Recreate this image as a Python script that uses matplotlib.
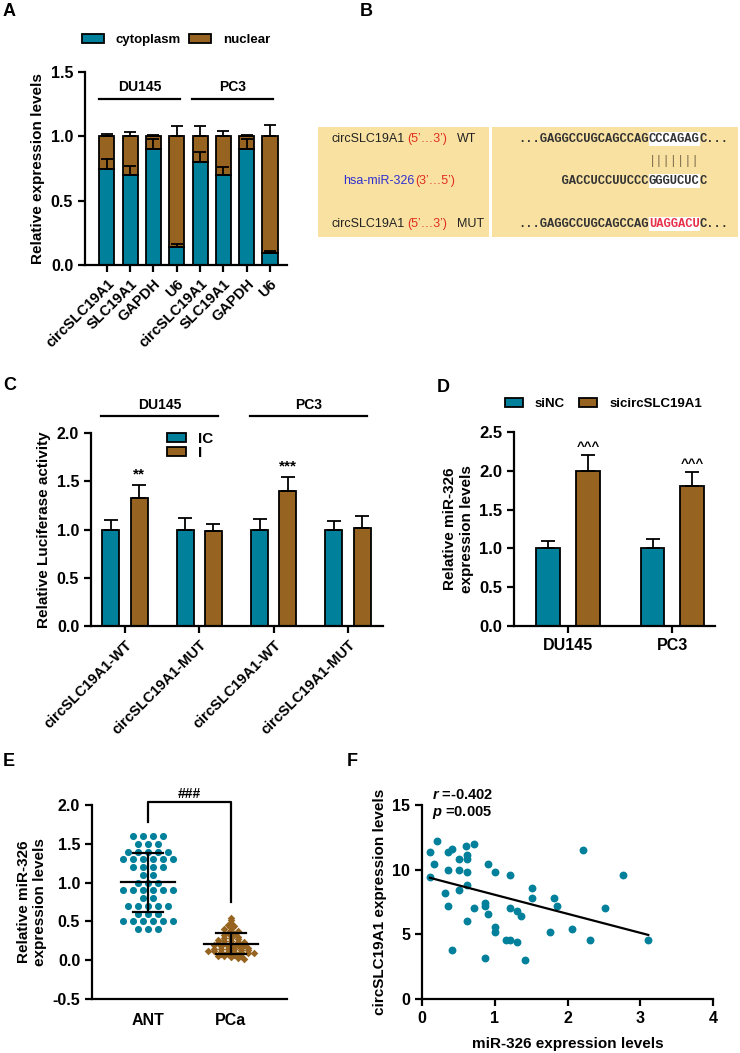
import numpy as np
import matplotlib.pyplot as plt
from matplotlib.patches import Rectangle
from matplotlib.ticker import FormatStrFormatter

plt.rcParams['font.family'] = ['Liberation Sans', 'DejaVu Sans']
plt.rcParams['font.weight'] = 'bold'
plt.rcParams['axes.labelweight'] = 'bold'
plt.rcParams['axes.linewidth'] = 1.6
plt.rcParams['xtick.major.width'] = 1.6
plt.rcParams['ytick.major.width'] = 1.6
plt.rcParams['xtick.major.size'] = 5
plt.rcParams['ytick.major.size'] = 5
plt.rcParams['xtick.labelsize'] = 11.5
plt.rcParams['ytick.labelsize'] = 11.5
plt.rcParams['axes.labelsize'] = 11
plt.rcParams['mathtext.fontset'] = 'custom'
plt.rcParams['mathtext.it'] = 'Liberation Sans:italic:bold'
plt.rcParams['mathtext.rm'] = 'Liberation Sans:bold'

TEAL = '#00809A'
BROWN = '#966420'
PALE = '#F9E1A2'

# ---- data ----
# A: subcellular fractionation
a_genes = ['circSLC19A1', 'SLC19A1', 'GAPDH', 'U6',
           'circSLC19A1', 'SLC19A1', 'GAPDH', 'U6']
a_cells = ['DU145', 'PC3']
a_cyto = [0.75, 0.70, 0.90, 0.14, 0.80, 0.70, 0.90, 0.09]
a_cyto_err = [0.07, 0.07, 0.08, 0.02, 0.08, 0.06, 0.08, 0.02]
a_nuc_err = [0.02, 0.03, 0.01, 0.08, 0.08, 0.04, 0.01, 0.09]

# B: binding site
b_wt = ['...GAGGCCUGCAGCCAG', 'CCCAGAG', 'C...']
b_mir = ['      GACCUCCUUCCC', 'GGGUCUC', 'C']
b_mut = ['...GAGGCCUGCAGCCAG', 'UAGGACU', 'C...']

# C: luciferase
c_constructs = ['circSLC19A1-WT', 'circSLC19A1-MUT',
                'circSLC19A1-WT', 'circSLC19A1-MUT']
c_cells = ['DU145', 'PC3']
c_ic = [1.0, 1.0, 1.0, 1.0]
c_ic_err = [0.10, 0.12, 0.11, 0.09]
c_i = [1.33, 0.98, 1.40, 1.02]
c_i_err = [0.13, 0.08, 0.14, 0.12]
c_marks = ['**', '', '***', '']

# D: miR-326 after knockdown
d_cells = ['DU145', 'PC3']
d_sinc = [1.0, 1.0]
d_sinc_err = [0.10, 0.12]
d_si = [2.0, 1.8]
d_si_err = [0.20, 0.18]
d_marks = ['^^^', '^^^']

# E: tissue miR-326
e_groups = ['ANT', 'PCa']
e_ant = [1.6, 1.6, 1.6, 1.6, 1.5, 1.5, 1.5, 1.4, 1.4, 1.4, 1.4, 1.4,
         1.3, 1.3, 1.3, 1.3, 1.3, 1.3, 1.2, 1.2, 1.2, 1.2, 1.1, 1.1,
         1.0, 1.0, 1.0, 0.9, 0.9, 0.9, 0.9, 0.9, 0.9, 0.8, 0.8,
         0.7, 0.7, 0.7, 0.7, 0.7, 0.6, 0.6, 0.6,
         0.5, 0.5, 0.5, 0.5, 0.5, 0.5, 0.4, 0.4, 0.4]
e_pca = [0.55, 0.52, 0.48, 0.46, 0.44, 0.42, 0.40, 0.38, 0.37, 0.35,
         0.34, 0.33, 0.32, 0.30, 0.29, 0.28, 0.27, 0.26, 0.25, 0.25,
         0.24, 0.23, 0.22, 0.22, 0.21, 0.20, 0.20, 0.19, 0.18, 0.18,
         0.17, 0.16, 0.16, 0.15, 0.15, 0.14, 0.14, 0.13, 0.13, 0.12,
         0.12, 0.11, 0.11, 0.10, 0.10, 0.09, 0.09, 0.08, 0.08, 0.07,
         0.06, 0.05, 0.05, 0.04, 0.03, 0.02]

# F: correlation
f_mir = [0.11, 0.16, 0.11, 0.21, 0.36, 0.41, 0.36, 0.31, 0.36, 0.41,
         0.51, 0.51, 0.51, 0.61, 0.62, 0.62, 0.62, 0.62, 0.62, 0.71,
         0.71, 0.91, 0.86, 0.86, 0.91, 0.86, 1.01, 1.01, 1.01, 1.21,
         1.21, 1.15, 1.21, 1.31, 1.31, 1.36, 1.41, 1.51, 1.51, 1.76,
         1.81, 1.86, 2.06, 2.21, 2.31, 2.51, 2.76, 3.11]
f_circ = [11.4, 10.4, 9.4, 12.2, 11.4, 11.6, 10.0, 8.2, 7.2, 3.8,
          10.8, 10.0, 8.4, 11.8, 11.1, 10.8, 9.8, 8.8, 6.0, 12.0,
          7.0, 10.4, 7.4, 7.2, 6.6, 3.2, 9.8, 5.6, 5.2, 9.6,
          7.0, 4.6, 4.6, 6.8, 4.4, 6.4, 3.0, 8.6, 7.8, 5.2,
          7.8, 7.2, 5.4, 11.5, 4.6, 7.0, 9.6, 4.6]

W, H = 740, 1053
fig = plt.figure(figsize=(W / 100, H / 100), dpi=100)


def px_axes(l, t, r, b):
    ax = fig.add_axes([l / W, 1 - b / H, (r - l) / W, (b - t) / H])
    ax.spines[['top', 'right']].set_visible(False)
    return ax


def letter(x, y, s):
    fig.text(x / W, 1 - y / H, s, fontsize=13, fontweight='bold', va='center')


def up_err(ax, x, y, e, cap=4):
    ax.errorbar(x, y, yerr=[np.zeros(len(e)), e], fmt='none', ecolor='black',
                elinewidth=1.3, capsize=cap, capthick=1.3, zorder=4)


def swarm_x(values, center, step, bin_w):
    values = np.asarray(values)
    bins = np.round(values / bin_w).astype(int)
    xs = np.empty(len(values))
    for b in np.unique(bins):
        idx = np.where(bins == b)[0]
        n = len(idx)
        xs[idx] = center + (np.arange(n) - (n - 1) / 2) * step
    return xs


bar_kw = dict(edgecolor='black', linewidth=1.3, zorder=2)

# ---- A ----
ax = px_axes(85, 72, 287, 265)
xa = np.arange(len(a_genes))
cyto = np.array(a_cyto)
ax.bar(xa, cyto, 0.65, color=TEAL, label='cytoplasm', **bar_kw)
ax.bar(xa, 1 - cyto, 0.65, bottom=cyto, color=BROWN, label='nuclear', **bar_kw)
up_err(ax, xa, cyto, a_cyto_err)
up_err(ax, xa, np.ones(len(xa)), a_nuc_err)
ax.set_xlim(-0.94, 7.73)
ax.set_ylim(0, 1.5)
ax.set_yticks([0, 0.5, 1.0, 1.5])
ax.yaxis.set_major_formatter(FormatStrFormatter('%.1f'))
ax.set_xticks(xa)
ax.set_xticklabels(a_genes, rotation=45, ha='right', va='top',
                   rotation_mode='anchor', fontsize=10.5)
ax.set_ylabel('Relative expression levels', labelpad=4)
for i, name in enumerate(a_cells):
    ax.plot([i * 4 - 0.35, i * 4 + 3.15], [1.29, 1.29], color='black', lw=1.6,
            clip_on=False)
    ax.text(i * 4 + 1.4, 1.385, name, ha='center', va='center', fontsize=10)
ax.legend(loc='center left', bbox_to_anchor=(82 / W, 1 - 40 / H),
          bbox_transform=fig.transFigure, ncol=2, frameon=False, fontsize=9.5,
          handlelength=1.67, handleheight=0.6, handletextpad=0.9,
          columnspacing=0.6, borderpad=0, borderaxespad=0)
letter(3, 12, 'A')

# ---- B ----
axb = fig.add_axes([280 / W, 1 - 240 / H, 460 / W, 240 / H])
axb.set_xlim(280, 740)
axb.set_ylim(240, 0)
axb.axis('off')
axb.add_patch(Rectangle((318, 127), 171, 110, color=PALE, lw=0))
axb.add_patch(Rectangle((492, 127), 246, 110, color=PALE, lw=0))
lab_kw = dict(fontsize=9, fontweight='normal', va='center')
for y, tag in [(139, 'WT'), (224, 'MUT')]:
    axb.text(332, y, 'circSLC19A1', color='#222222', **lab_kw)
    axb.text(407, y, '(5\u2019\u20263\u2019)', color='#E0301E', **lab_kw)
    axb.text(457, y, tag, color='#222222', **lab_kw)
axb.text(343, 181, 'hsa-miR-326', color='#3030D0', **lab_kw)
axb.text(415, 181, '(3\u2019\u20265\u2019)', color='#E0301E', **lab_kw)

cw = 7.27
x0 = 518
mono = dict(fontsize=cw / 0.6 * 0.72, family='Liberation Mono',
            fontweight='bold', va='center', ha='left')
for y, parts, hl_color in [(139, b_wt, '#333333'), (181, b_mir, '#333333'),
                           (224, b_mut, '#E8304A')]:
    n0 = len(parts[0])
    axb.add_patch(Rectangle((x0 + n0 * cw, y - 7), len(parts[1]) * cw, 14,
                            color='white', lw=0))
    axb.text(x0, y, parts[0], color='#333333', **mono)
    axb.text(x0 + n0 * cw, y, parts[1], color=hl_color, **mono)
    axb.text(x0 + (n0 + len(parts[1])) * cw, y, parts[2], color='#333333', **mono)
axb.text(x0 + len(b_wt[0]) * cw, 161, '|' * len(b_wt[1]), color='#7A6A4A',
         **dict(mono, fontweight='normal'))
letter(360, 12, 'B')

# ---- C ----
ax = px_axes(91, 433, 383, 626)
xc = np.arange(len(c_constructs))
off, w = 0.19, 0.23
ax.bar(xc - off, c_ic, w, color=TEAL, label='IC', **bar_kw)
ax.bar(xc + off, c_i, w, color=BROWN, label='I', **bar_kw)
up_err(ax, xc - off, c_ic, c_ic_err, cap=5)
up_err(ax, xc + off, c_i, c_i_err, cap=5)
for i, m in enumerate(c_marks):
    if m:
        ax.text(xc[i] + off, c_i[i] + c_i_err[i] + 0.04, m, ha='center',
                va='bottom', fontsize=11)
ax.set_xlim(-0.457, 3.47)
ax.set_ylim(0, 2.0)
ax.set_yticks([0, 0.5, 1.0, 1.5, 2.0])
ax.yaxis.set_major_formatter(FormatStrFormatter('%.1f'))
ax.set_xticks(xc)
ax.set_xticklabels(c_constructs, rotation=45, ha='right', va='top',
                   rotation_mode='anchor', fontsize=10.5)
ax.set_ylabel('Relative Luciferase activity', labelpad=4)
for i, name in enumerate(c_cells):
    ax.plot([i * 2 - 0.32, i * 2 + 1.25], [2.18, 2.18], color='black', lw=1.6,
            clip_on=False)
    ax.text(i * 2 + 0.465, 2.29, name, ha='center', va='center', fontsize=10)
ax.legend(loc='upper left', bbox_to_anchor=(167 / W, 1 - 432 / H),
          bbox_transform=fig.transFigure, frameon=False, fontsize=11,
          handlelength=1.25, handleheight=0.5, handletextpad=0.8,
          labelspacing=0.0, borderpad=0, borderaxespad=0)
letter(3, 385, 'C')

# ---- D ----
ax = px_axes(514, 432, 715, 626)
xd = np.arange(len(d_cells))
ax.bar(xd - off, d_sinc, w, color=TEAL, label='siNC', **bar_kw)
ax.bar(xd + off, d_si, w, color=BROWN, label='sicircSLC19A1', **bar_kw)
up_err(ax, xd - off, d_sinc, d_sinc_err, cap=5)
up_err(ax, xd + off, d_si, d_si_err, cap=5)
for i, m in enumerate(d_marks):
    ax.text(xd[i] + off, d_si[i] + d_si_err[i] + 0.03, m, ha='center',
            va='bottom', fontsize=9.5, fontweight='bold')
ax.set_xlim(-0.52, 1.41)
ax.set_ylim(0, 2.5)
ax.set_yticks([0, 0.5, 1.0, 1.5, 2.0, 2.5])
ax.yaxis.set_major_formatter(FormatStrFormatter('%.1f'))
ax.tick_params(axis='y', labelsize=12)
ax.set_xticks(xd)
ax.set_xticklabels(d_cells)
ax.set_ylabel('Relative miR-326\nexpression levels', labelpad=4)
ax.legend(loc='center left', bbox_to_anchor=(505 / W, 1 - 404 / H),
          bbox_transform=fig.transFigure, ncol=2, frameon=False, fontsize=9.5,
          handlelength=1.36, handleheight=0.6, handletextpad=0.9,
          columnspacing=1.1, borderpad=0, borderaxespad=0)
letter(437, 387, 'D')

# ---- E ----
ax = px_axes(92, 805, 287, 999)
for i, (vals, col, mk, s, step, bw) in enumerate(
        [(e_ant, TEAL, 'o', 26, 0.12, 0.1), (e_pca, BROWN, 'D', 15, 0.08, 0.035)]):
    xs = swarm_x(vals, i, step, bw)
    ax.scatter(xs, vals, s=s, marker=mk, color=col, lw=0, zorder=2, clip_on=False)
    m, sd = np.mean(vals), np.std(vals, ddof=1)
    ax.plot([i - 0.33, i + 0.33], [m, m], color='black', lw=1.6, zorder=3)
    ax.plot([i, i], [m - sd, m + sd], color='black', lw=1.6, zorder=3)
    for yy in (m - sd, m + sd):
        ax.plot([i - 0.18, i + 0.18], [yy, yy], color='black', lw=1.6, zorder=3)
ax.plot([0, 0, 1, 1], [1.78, 2.04, 2.04, 0.75], color='black', lw=1.6,
        clip_on=False)
ax.text(0.5, 2.14, '###', ha='center', va='center', fontsize=10)
ax.set_xlim(-0.675, 1.675)
ax.set_ylim(-0.5, 2.0)
ax.set_yticks([-0.5, 0, 0.5, 1.0, 1.5, 2.0])
ax.yaxis.set_major_formatter(FormatStrFormatter('%.1f'))
ax.set_xticks([0, 1])
ax.set_xticklabels(e_groups)
ax.tick_params(axis='x', length=0, pad=10)
ax.set_ylabel('Relative miR-326\nexpression levels', labelpad=4)
letter(3, 762, 'E')

# ---- F ----
ax = px_axes(422, 805, 713, 999)
ax.scatter(f_mir, f_circ, s=32, color=TEAL, lw=0, zorder=2)
slope, icpt = np.polyfit(f_mir, f_circ, 1)
xx = np.array([min(f_mir), max(f_mir)])
ax.plot(xx, slope * xx + icpt, color='black', lw=1.6, zorder=3)
ax.set_xlim(0, 4)
ax.set_ylim(0, 15)
ax.set_xticks([0, 1, 2, 3, 4])
ax.set_yticks([0, 5, 10, 15])
ax.set_xlabel('miR-326 expression levels', labelpad=8)
ax.set_ylabel('circSLC19A1 expression levels', labelpad=4)
ax.text(0.14, 15.75, r'$r$ =-0.402', fontsize=10.5, va='center')
ax.text(0.14, 14.45, r'$p$ =0.005', fontsize=10.5, va='center')
letter(347, 762, 'F')

fig.savefig('out.png', dpi=100)
